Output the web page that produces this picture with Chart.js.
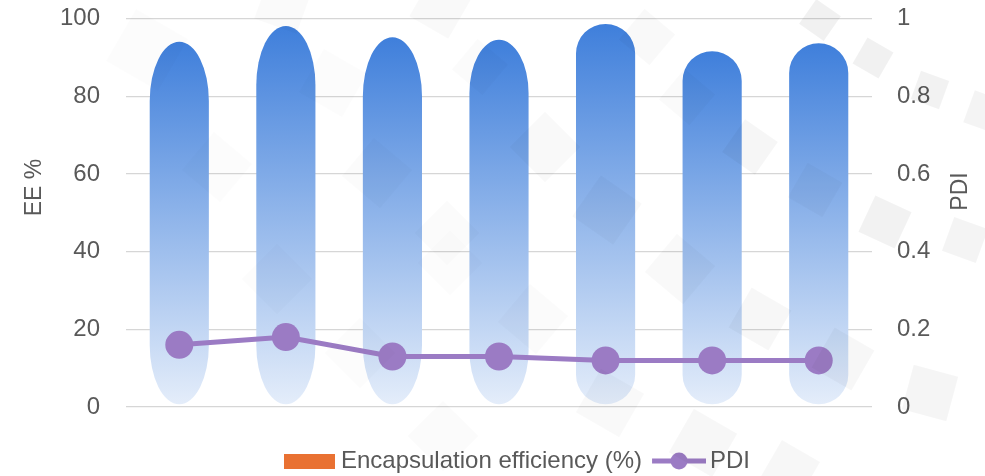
<!DOCTYPE html>
<html>
<head>
<meta charset="utf-8">
<script src="https://cdn.jsdelivr.net/npm/chart.js@4.4.1/dist/chart.umd.min.js"></script>
<style>
  html, body { margin: 0; padding: 0; background: #ffffff; }
  #wrap { position: relative; width: 985px; height: 476px; }
  canvas { position: absolute; left: 0; top: 0; }
</style>
</head>
<body>
<div id="wrap"><canvas id="chart" width="985" height="476"></canvas></div>
<script>
// Formulations (not labelled on the axis)
const formulations = ['F1', 'F2', 'F3', 'F4', 'F5', 'F6', 'F7'];
// Encapsulation efficiency, %
const eeValues = [94.0, 98.1, 95.2, 94.5, 98.6, 91.6, 93.6];
// Polydispersity index
const pdiValues = [0.16, 0.18, 0.13, 0.13, 0.12, 0.12, 0.12];
// Axis ticks
const eeTicks = [0, 20, 40, 60, 80, 100];
const pdiTicks = [0, 0.2, 0.4, 0.6, 0.8, 1];

// Style: vertical stretch of each bar's rounded ends (1 = round, 2 = tall oval)
const capShape = [2, 2, 2, 1.8, 1, 1, 1];
// Style: faint decorative tiles laid over the chart [x, y, size, angle, opacity]
const backdropTiles = [
  [820, 20, 30, 35, 0.055], [873, 58, 30, 30, 0.055], [930, 90, 30, 20, 0.05],
  [985, 112, 34, 20, 0.045], [885, 222, 40, 25, 0.05], [965, 240, 36, 20, 0.045],
  [930, 393, 46, 15, 0.04], [843, 359, 46, 30, 0.03],
  [760, 319, 46, 30, 0.03], [680, 269, 50, 40, 0.025], [703, 443, 50, 30, 0.03],
  [610, 403, 50, 30, 0.025], [790, 470, 44, 30, 0.03], [545, 147, 50, 45, 0.025],
  [750, 147, 40, 35, 0.035], [815, 190, 40, 30, 0.025], [607, 210, 50, 35, 0.025],
  [647, 37, 40, 40, 0.025], [687, 97, 40, 40, 0.02], [533, 319, 50, 40, 0.015],
  [147, 50, 60, 30, 0.012], [283, 5, 45, 20, 0.018], [440, 8, 45, 30, 0.022],
  [333, 83, 50, 30, 0.012], [217, 167, 50, 40, 0.012], [377, 173, 50, 40, 0.015],
  [480, 67, 40, 40, 0.015], [447, 233, 46, 45, 0.015], [277, 279, 50, 45, 0.01],
  [450, 263, 46, 45, 0.012], [360, 353, 50, 45, 0.012], [443, 436, 50, 45, 0.015]
];

const FONT = '"Liberation Sans", Arial, sans-serif';
const TEXT = '#595959';
const GRID = '#d6d6d6';
const PURPLE = '#9b7bc4';
const ORANGE = '#e97132';

function swatch(w, h, draw) {
  const c = document.createElement('canvas');
  c.width = w; c.height = h;
  draw(c.getContext('2d'), w, h);
  return c;
}
// Legend keys (images are centred on the key slot, so they carry their own margins)
const barSwatch = swatch(56, 15, (g, w, h) => { g.fillStyle = ORANGE; g.fillRect(5, 0, 51, h); });
const lineSwatch = swatch(60, 20, (g, w, h) => {
  g.strokeStyle = PURPLE; g.lineWidth = 5;
  g.beginPath(); g.moveTo(6, h / 2); g.lineTo(w, h / 2); g.stroke();
  g.fillStyle = PURPLE;
  g.beginPath(); g.arc(33, h / 2, 8.5, 0, Math.PI * 2); g.fill();
});

// Decorative tiles laid lightly over everything
const backdrop = {
  id: 'backdrop',
  afterDraw(chart) {
    const c = chart.ctx;
    c.save();
    backdropTiles.forEach(([x, y, s, a, o]) => {
      c.save();
      c.translate(x, y);
      c.rotate(a * Math.PI / 180);
      c.fillStyle = 'rgba(0,0,0,' + o + ')';
      c.fillRect(-s / 2, -s / 2, s, s);
      c.restore();
    });
    c.restore();
  }
};

// Bars drawn as capsules (oval ends) with a gradient from top to base
const capsuleBars = {
  id: 'capsuleBars',
  beforeDatasetDraw(chart, args) {
    if (chart.data.datasets[args.index].type !== 'bar') return;
    const c = chart.ctx;
    c.save();
    args.meta.data.forEach((bar, i) => {
      const { x, y, base, width } = bar.getProps(['x', 'y', 'base', 'width'], true);
      const rx = width / 2;
      const bottom = base - 2;
      const ry = Math.min(rx * capShape[i], (bottom - y) / 2);
      const g = c.createLinearGradient(0, y, 0, bottom);
      g.addColorStop(0, '#3f7fdb');
      g.addColorStop(1, '#e4edfa');
      c.beginPath();
      c.moveTo(x - rx, y + ry);
      c.ellipse(x, y + ry, rx, ry, 0, Math.PI, Math.PI * 2);
      c.lineTo(x + rx, bottom - ry);
      c.ellipse(x, bottom - ry, rx, ry, 0, 0, Math.PI);
      c.closePath();
      c.fillStyle = g;
      c.fill();
    });
    c.restore();
    return false;
  }
};

// Rotated axis titles, both reading bottom to top
const axisTitles = {
  id: 'axisTitles',
  afterDraw(chart) {
    const c = chart.ctx;
    const top = chart.chartArea.top;
    c.save();
    c.fillStyle = TEXT;
    c.font = '23px ' + FONT;
    c.textAlign = 'center';
    c.textBaseline = 'middle';
    [[35, top + 169, 'EE %'], [961, top + 173, 'PDI']].forEach(([x, y, t]) => {
      c.save();
      c.translate(x, y);
      c.rotate(-Math.PI / 2);
      c.fillText(t, 0, 0);
      c.restore();
    });
    c.restore();
  }
};

new Chart(document.getElementById('chart'), {
  data: {
    labels: formulations,
    datasets: [
      {
        type: 'line',
        label: 'PDI',
        data: pdiValues,
        yAxisID: 'y1',
        order: 1,
        borderColor: PURPLE,
        backgroundColor: PURPLE,
        borderWidth: 5,
        pointRadius: 14,
        pointHoverRadius: 14,
        pointBackgroundColor: PURPLE,
        pointBorderWidth: 0,
        tension: 0
      },
      {
        type: 'bar',
        label: 'Encapsulation efficiency (%)',
        data: eeValues,
        yAxisID: 'y',
        order: 2,
        backgroundColor: '#6a9be3',
        borderWidth: 0,
        categoryPercentage: 1,
        barPercentage: 0.555
      }
    ]
  },
  options: {
    responsive: false,
    animation: false,
    events: [],
    layout: { padding: { top: 0, bottom: -7, left: 50, right: 0 } },
    plugins: {
      tooltip: { enabled: false },
      legend: {
        position: 'bottom',
        labels: {
          font: { family: FONT, size: 24 },
          color: TEXT,
          usePointStyle: true,
          pointStyleWidth: 44,
          padding: 12,
          generateLabels() {
            return [
              { text: 'Encapsulation efficiency (%)', pointStyle: barSwatch, fontColor: TEXT, lineWidth: 0, hidden: false, datasetIndex: 1 },
              { text: 'PDI', pointStyle: lineSwatch, fontColor: TEXT, lineWidth: 0, hidden: false, datasetIndex: 0 }
            ];
          }
        }
      }
    },
    scales: {
      x: {
        display: true,
        offset: true,
        afterFit(s) { s.height = 30; },
        border: { display: false },
        grid: { display: false, drawTicks: false },
        ticks: { display: false }
      },
      y: {
        position: 'left',
        min: 0, max: 100,
        afterBuildTicks(s) { s.ticks = eeTicks.map(v => ({ value: v })); },
        afterFit(s) { s.width = 76; s.paddingTop = 18.5; s.paddingBottom = 0; },
        border: { display: false },
        grid: { color: GRID, lineWidth: 1.3, drawTicks: false },
        ticks: { color: TEXT, font: { family: FONT, size: 24 }, padding: 26 }
      },
      y1: {
        position: 'right',
        min: 0, max: 1,
        afterBuildTicks(s) { s.ticks = pdiTicks.map(v => ({ value: v })); },
        afterFit(s) { s.width = 113; s.paddingTop = 18.5; s.paddingBottom = 0; },
        border: { display: false },
        grid: { display: false, drawTicks: false },
        ticks: { color: TEXT, font: { family: FONT, size: 24 }, padding: 25, callback: v => String(v) }
      }
    }
  },
  plugins: [capsuleBars, axisTitles, backdrop]
});
</script>
</body>
</html>
